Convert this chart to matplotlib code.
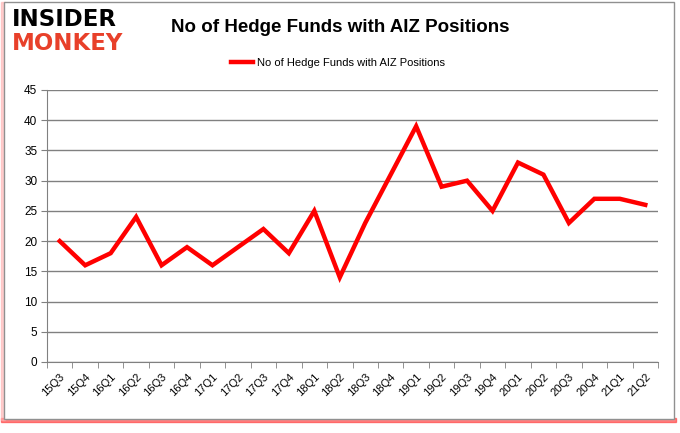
import numpy as np
import matplotlib.pyplot as plt
from matplotlib.patches import Rectangle

quarters = ['15Q3', '15Q4', '16Q1', '16Q2', '16Q3', '16Q4', '17Q1', '17Q2',
            '17Q3', '17Q4', '18Q1', '18Q2', '18Q3', '18Q4', '19Q1', '19Q2',
            '19Q3', '19Q4', '20Q1', '20Q2', '20Q3', '20Q4', '21Q1', '21Q2']
funds = [20, 16, 18, 24, 16, 19, 16, 19, 22, 18, 25, 14, 23, 31, 39, 29,
         30, 25, 33, 31, 23, 27, 27, 26]
series_name = 'No of Hedge Funds with AIZ Positions'

W, H = 680, 433
fig = plt.figure(figsize=(W / 100, H / 100), dpi=100)
plt.rcParams['font.family'] = ['Liberation Sans', 'DejaVu Sans']

# frame with red shadow
fig.patches.append(Rectangle((1 / W, 1 - 422 / H), 675 / W, 4 / H,
                             transform=fig.transFigure, color='#ff3030', alpha=0.6, zorder=0))
fig.patches.append(Rectangle((1 / W, 1 - 420 / H), 4 / W, 418 / H,
                             transform=fig.transFigure, color='#ffb0b0', alpha=0.6, zorder=0))
fig.patches.append(Rectangle((4 / W, 1 - 419 / H), 670 / W, 417 / H,
                             transform=fig.transFigure, facecolor='white',
                             edgecolor='#909090', lw=1, zorder=1))

ax = fig.add_axes([47 / W, 1 - 362 / H, (658 - 47) / W, (362 - 90) / H])
x = np.arange(len(quarters))
ax.plot(x, funds, color='#ff0000', lw=3.2, label=series_name,
        solid_joinstyle='miter', zorder=3)

ax.set_xlim(-0.5, len(quarters) - 0.5)
ax.set_ylim(0, 45)
ax.set_yticks(np.arange(0, 46, 5))
ax.set_xticks(x)
ax.set_xticklabels(quarters, rotation=45, ha='right', rotation_mode='anchor',
                   fontsize=8)
ax.set_xticks(np.arange(-0.5, len(quarters), 1), minor=True)
ax.tick_params(axis='x', which='major', length=0, pad=7)
ax.tick_params(axis='x', which='minor', length=4, color='#808080', direction='out')
ax.tick_params(axis='y', length=4, color='#808080', labelsize=8.5, pad=3)
ax.grid(axis='y', color='#808080', lw=1)
ax.set_axisbelow(True)
for s in ['top', 'right']:
    ax.spines[s].set_visible(False)
ax.spines['left'].set_color('#808080')
ax.spines['bottom'].set_color('#808080')
ax.set_zorder(2)

fig.text(340 / W, 1 - 28 / H, series_name, ha='center', va='center',
         fontsize=13.5, fontweight='bold')
fig.legend(loc='center', bbox_to_anchor=(338 / W, 1 - 63 / H), frameon=False,
           fontsize=8, handlelength=2.0, handletextpad=0.4)

# logo
fig.text(12 / W, 1 - 19 / H, 'INSIDER', ha='left', va='center', fontsize=16.5,
         fontweight='bold', color='black', family=['DejaVu Sans'])
fig.text(12 / W, 1 - 43 / H, 'MONKEY', ha='left', va='center', fontsize=16.5,
         fontweight='bold', color='#e8402a', family=['DejaVu Sans'])

fig.savefig('out.png', dpi=100)
